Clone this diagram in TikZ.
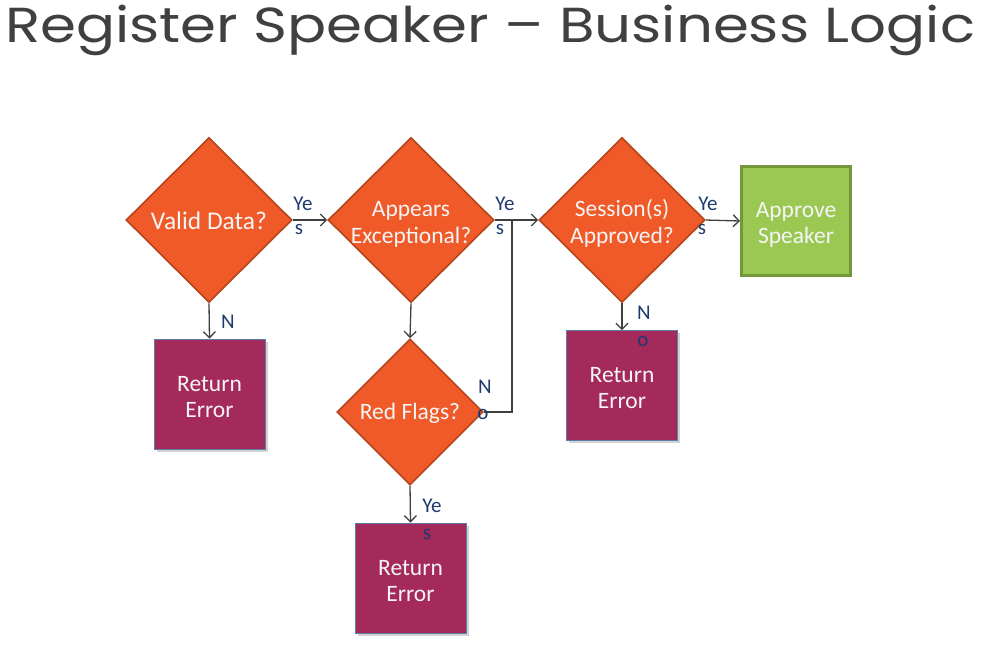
\documentclass[tikz,border=0pt]{standalone}
\usepackage{fontspec}
\setmainfont{Carlito}
\newfontfamily\titlefont{Poppins}
\usetikzlibrary{shapes.geometric,shadows,arrows.meta}
\definecolor{orangeF}{HTML}{F05A28}
\definecolor{orangeD}{HTML}{B4451D}
\definecolor{purpF}{HTML}{A32A5A}
\definecolor{purpB}{HTML}{5B7FA6}
\definecolor{greenF}{HTML}{9BC853}
\definecolor{greenD}{HTML}{76963A}
\definecolor{navyC}{HTML}{1F3A6E}
\definecolor{lineC}{HTML}{404040}
\definecolor{titleC}{HTML}{404040}
\newcommand\lowerstrut[1]{\rule{0pt}{#1}}
\newcommand\dtext[1]{\raisebox{-10.5pt}[0pt][0pt]{\begin{tabular}[c]{@{}c@{}}#1\end{tabular}}}
\begin{document}
\begin{tikzpicture}[x=1pt,y=-1pt,
  dec/.style={diamond, aspect=1, fill=orangeF, draw=orangeD, line width=1.6pt,
    inner sep=0pt, text=white!96!black, align=center,
    font=\fontsize{23.5}{27}\selectfont, minimum width=166pt, minimum height=165pt},
  errbox/.style={rectangle, fill=purpF, draw=purpB, line width=0.8pt,
    minimum width=111pt, minimum height=110pt, inner sep=0pt, align=center,
    text=white!96!black, font=\fontsize{23.5}{26}\selectfont,
    drop shadow={opacity=0.35, shadow xshift=2.5pt, shadow yshift=-2.5pt}},
  okbox/.style={rectangle, fill=greenF, draw=greenD, line width=3pt,
    minimum width=109pt, minimum height=109pt, inner sep=0pt, align=center,
    text=white!96!black, font=\fontsize{23.5}{26}\selectfont},
  flow/.style={draw=lineC, line width=1.3pt, -{Straight Barb[length=6pt,width=12pt]}},
  plain/.style={draw=lineC, line width=1.3pt},
  lab/.style={text=navyC, inner sep=0pt, font=\fontsize{21}{21}\selectfont}]
\useasboundingbox[fill=white] (0,0) rectangle (995,646);

\node[anchor=base west, inner sep=0pt, text=titleC] (title) at (5,42)
  {\scalebox{1}[0.85]{\resizebox{970pt}{!}{\titlefont\fontsize{46}{46}\selectfont Register Speaker – Business Logic}}};

\node[dec, font=\fontsize{25.5}{28}\selectfont] (d1) at (209,220) {\lowerstrut{20pt}Valid Data?};
\node[dec] (d2) at (411,220) {\dtext{Appears\\Exceptional?}};
\node[dec] (d3) at (622,220) {\dtext{Session(s)\\Approved?}};
\node[dec, minimum width=146pt, minimum height=146pt] (d4) at (410,412) {\lowerstrut{20pt}Red Flags?};

\node[okbox] (ok) at (796,221) {\lowerstrut{22pt}Approve\\Speaker};
\node[errbox] (e1) at (209.5,394) {\lowerstrut{21pt}Return\\Error};
\node[errbox] (e2) at (622,385.5) {\lowerstrut{21pt}Return\\Error};
\node[errbox] (e3) at (410.5,578) {\lowerstrut{21pt}Return\\Error};

\coordinate (j) at (512,220);

\draw[flow] (d1.east) -- (d2.west);
\draw[flow] (d2.east) -- (d3.west);
\draw[flow] (d3.east) -- (ok.west);
\draw[flow] (d1.south) -- (e1.north);
\draw[flow] (d2.south) -- (d4.north);
\draw[flow] (d3.south) -- (e2.north);
\draw[flow] (d4.south) -- (e3.north);
\draw[plain] (d4.east) -| (j);

\node[lab] (l1a) at (303,204) {Ye};
\node[lab] (l1b) at (299,229) {s};
\node[lab] (l2a) at (505,204) {Ye};
\node[lab] (l2b) at (500,229) {s};
\node[lab] (l3a) at (708,204) {Ye};
\node[lab] (l3b) at (702,229) {s};
\node[lab] (l4) at (228,322) {N};
\node[lab] (l5a) at (644,313) {N};
\node[lab] (l5b) at (643,341) {o};
\node[lab] (l6a) at (485,387) {N};
\node[lab] (l6b) at (483,414) {o};
\node[lab] (l7a) at (432,506) {Ye};
\node[lab] (l7b) at (427,534) {s};
\end{tikzpicture}
\end{document}
